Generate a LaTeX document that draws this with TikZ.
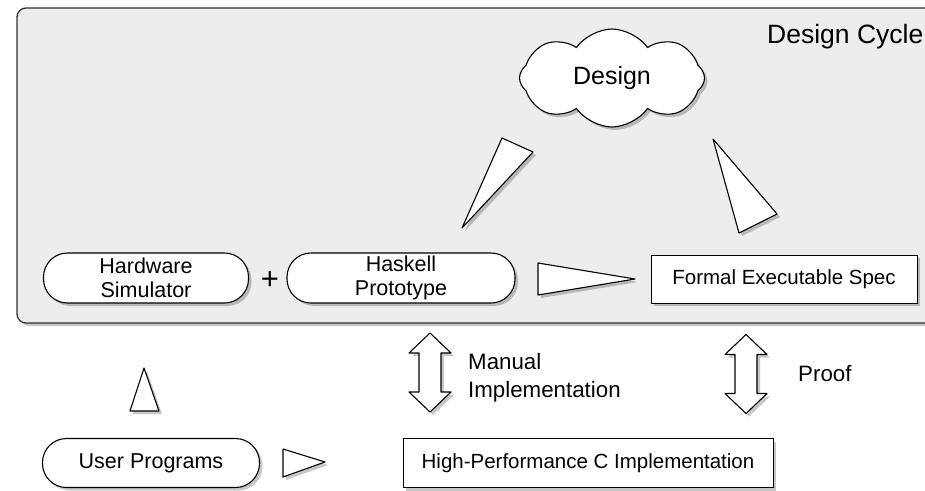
\documentclass[tikz,border=0pt]{standalone}
\usepackage{fontspec}
\setmainfont{Liberation Sans}
\usetikzlibrary{shapes.symbols,shadows}
\definecolor{bg}{HTML}{EDEDED}
\begin{document}
\begin{tikzpicture}[x=1pt,y=-1pt,
  shad/.style={drop shadow={shadow xshift=3pt,shadow yshift=-3pt,fill=black,opacity=0.22}},
  stadium/.style={draw=black,fill=white,line width=1.1pt,rounded corners=24pt,minimum height=50pt,align=center,font=\fontsize{21.5}{24}\selectfont,inner sep=0pt,shad},
  boxnode/.style={draw=black,fill=white,line width=0.9pt,minimum height=48pt,font=\fontsize{20.5}{24}\selectfont,inner sep=0pt,shad},
  cone/.style={draw=black,fill=white,line width=1.1pt,line join=round,shad},
  lbl/.style={align=left,font=\fontsize{22.3}{28}\selectfont,inner sep=0pt,anchor=west},
  dblarrow/.pic={\draw[cone] (0,-39.5) -- (21,-19.5) -- (11,-19.5) -- (11,19.5) -- (21,19.5) -- (0,39.5) -- (-21,19.5) -- (-11,19.5) -- (-11,-19.5) -- (-21,-19.5) -- cycle;}
]
\useasboundingbox (0,0) rectangle (925,490);
\begin{scope}
\clip (0,0) rectangle (925,490);
\draw[fill=bg,draw=black!80,line width=1.3pt,rounded corners=9pt,shad] (17,8) rectangle (945,323);
\end{scope}
\node[font=\fontsize{26.5}{30}\selectfont,anchor=base west,inner sep=0pt] (dc) at (767,43) {Design Cycle};

\node[cloud,cloud puffs=8,cloud puff arc=110,aspect=2,draw=black,fill=white,line width=1.1pt,minimum width=185pt,minimum height=98pt,inner sep=0pt,shad,font=\fontsize{25}{28}\selectfont] (design) at (612,78) {Design};

\node[stadium,minimum width=205pt] (hw) at (146,278) {Hardware\\Simulator};
\node[font=\fontsize{31}{34}\selectfont,inner sep=0pt] (plus) at (270,281) {+};
\node[stadium,minimum width=228pt] (hs) at (401,278) {Haskell\\Prototype};
\node[boxnode,minimum width=266pt] (spec) at (784,279) {Formal Executable Spec};
\node[boxnode,minimum width=370pt,minimum height=49pt] (cimp) at (588,463) {High-Performance C Implementation};
\node[stadium,minimum width=217pt,minimum height=49pt] (user) at (151,463) {User Programs};

\node[lbl] (manual) at (468,378) {Manual\\Implementation};
\node[lbl] (proof) at (798,374) {Proof};

% cones (arrows)
\draw[cone] (462,228) -- (502,138) -- (533,152) -- cycle;
\draw[cone] (713,139) -- (739,233) -- (777,214) -- cycle;
\draw[cone] (538,263) -- (538,295) -- (635,279) -- cycle;
\draw[cone] (130,411) -- (159,411) -- (144,368) -- cycle;
\draw[cone] (283,449) -- (283,477) -- (325,462) -- cycle;

% double arrows
\coordinate (ma) at (430,372.5);
\coordinate (pa) at (746,374);
\pic at (ma) {dblarrow};
\pic at (pa) {dblarrow};
\end{tikzpicture}
\end{document}
